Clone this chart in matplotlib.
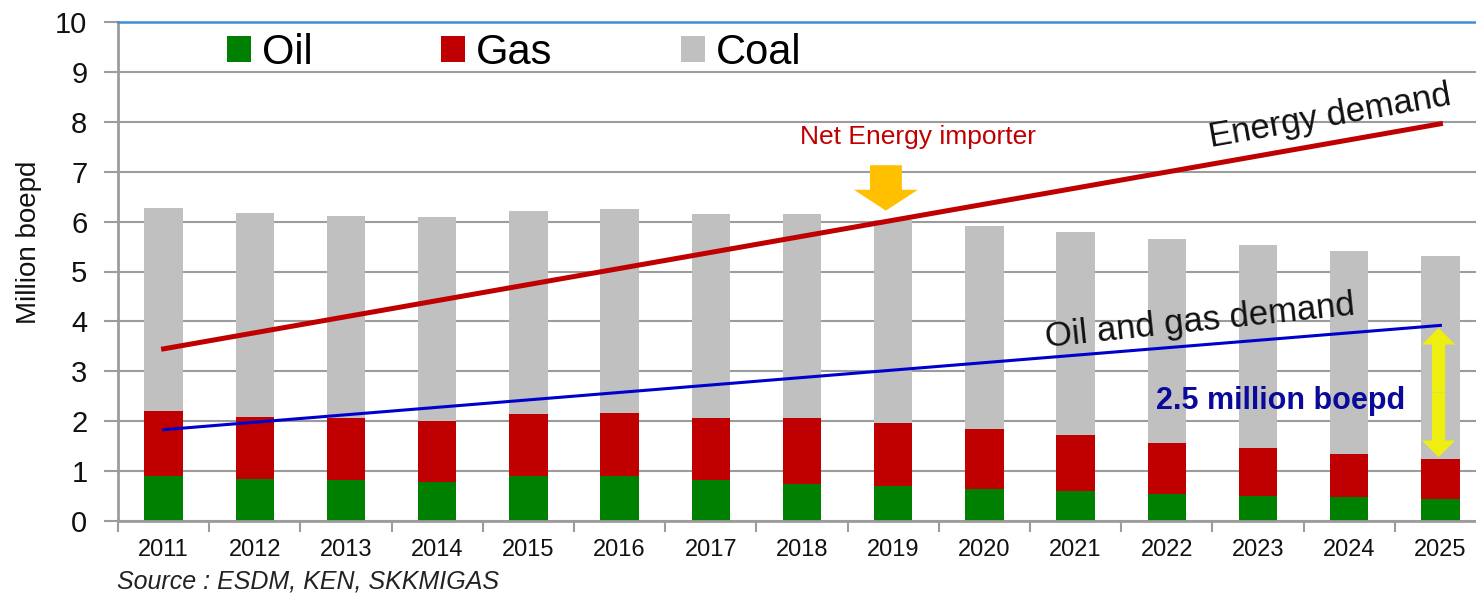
import matplotlib
matplotlib.use('Agg')
import matplotlib.pyplot as plt
from matplotlib.patches import FancyArrowPatch, ArrowStyle
import numpy as np

plt.rcParams['font.family'] = ['Liberation Sans', 'DejaVu Sans']

years = ['2011', '2012', '2013', '2014', '2015', '2016', '2017', '2018',
         '2019', '2020', '2021', '2022', '2023', '2024', '2025']
oil = [0.90, 0.85, 0.83, 0.79, 0.90, 0.90, 0.83, 0.75, 0.71, 0.64, 0.60, 0.55, 0.51, 0.48, 0.45]
gas = [1.31, 1.23, 1.23, 1.21, 1.24, 1.27, 1.23, 1.31, 1.26, 1.20, 1.13, 1.02, 0.95, 0.87, 0.79]
coal = [4.06, 4.09, 4.06, 4.09, 4.08, 4.08, 4.09, 4.09, 4.07, 4.07, 4.07, 4.08, 4.07, 4.06, 4.07]

demand_years = ['2011', '2025']
energy_demand = [3.45, 7.96]
oil_gas_demand = [1.83, 3.92]

W, H = 1476, 596
fig = plt.figure(figsize=(W / 100, H / 100), dpi=100)
ax = fig.add_axes([118 / W, (H - 521) / H, 1368 / W, 499 / H])

x = np.arange(len(years))
oil_a = np.array(oil)
gas_a = np.array(gas)
coal_a = np.array(coal)
bw = 0.42
b_oil = ax.bar(x, oil_a, bw, color='#008000', label='Oil', zorder=2)
b_gas = ax.bar(x, gas_a, bw, bottom=oil_a, color='#C00000', label='Gas', zorder=2)
b_coal = ax.bar(x, coal_a, bw, bottom=oil_a + gas_a, color='#C0C0C0', label='Coal', zorder=2)

dx = [years.index(y) for y in demand_years]
ax.plot(dx, energy_demand, color='#C00000', lw=3.6, zorder=4, solid_capstyle='projecting')
ax.plot(dx, oil_gas_demand, color='#0000CC', lw=2.2, zorder=4, solid_capstyle='projecting')

ax.set_xlim(-0.5, len(years) - 0.5)
ax.set_ylim(0, 10)
ax.set_yticks(range(0, 11))
ax.yaxis.grid(True, color='#9C9C9C', lw=1.5, zorder=0)
ax.set_axisbelow(True)
ax.tick_params(axis='y', length=10, width=1.5, color='#9C9C9C', labelsize=21, pad=12,
               labelcolor='#111111')
ax.set_xticks(x)
ax.set_xticklabels(years)
ax.set_xticks(np.arange(-0.5, len(years), 1.0), minor=True)
ax.tick_params(axis='x', which='major', length=0, labelsize=17, pad=13, labelcolor='#111111')
ax.tick_params(axis='x', which='minor', length=8, width=1.5, color='#9C9C9C')
for s in ['left', 'bottom']:
    ax.spines[s].set_color('#9C9C9C')
    ax.spines[s].set_linewidth(2)
ax.spines['right'].set_visible(False)
ax.spines['top'].set_color('#3F8FD8')
ax.spines['top'].set_linewidth(1.8)

ax.set_ylabel('Million boepd', fontsize=20, color='#111111')
ax.yaxis.set_label_coords((42 - 118) / 1368, 0.559)

leg = ax.legend(handles=[b_oil, b_gas, b_coal], ncol=3, frameon=False, fontsize=30,
                handlelength=0.58, handleheight=0.58, handletextpad=0.27,
                columnspacing=3.07, borderpad=0, borderaxespad=0,
                loc='center left', bbox_to_anchor=(227 / W, 1 - 53 / H),
                bbox_transform=fig.transFigure)

# Annotations
ax.text(8.27, 7.70, 'Net Energy importer', color='#C00000', fontsize=19,
        ha='center', va='center', zorder=5)
ax.text(12.79, 8.10, 'Energy demand', color='#111111', fontsize=25, rotation=10,
        rotation_mode='anchor', ha='center', va='center', zorder=5)
ax.text(11.36, 4.00, 'Oil and gas demand', color='#111111', fontsize=25, rotation=6,
        rotation_mode='anchor', ha='center', va='center', zorder=5)
ax.text(12.25, 2.40, '2.5 million boepd', color='#0A0A9A', fontsize=22,
        fontweight='bold', ha='center', va='center', zorder=5)

# Orange down arrow
orange = FancyArrowPatch((7.92, 7.13), (7.92, 6.22),
                         arrowstyle=ArrowStyle.Simple(head_length=1.5, head_width=4.6, tail_width=2.3),
                         mutation_scale=10, color='#FFC000', lw=0, zorder=5,
                         shrinkA=0, shrinkB=0)
ax.add_patch(orange)

# Yellow double arrow
mid = (3.87 + 1.28) / 2
for end in (3.87, 1.28):
    a = FancyArrowPatch((13.98, mid), (13.98, end),
                        arrowstyle=ArrowStyle.Simple(head_length=1.2, head_width=2.4, tail_width=0.95),
                        mutation_scale=10, color='#EEEE10', lw=0, zorder=5,
                        shrinkA=0, shrinkB=0)
    ax.add_patch(a)

fig.text(117 / W, 1 - 582 / H, 'Source : ESDM, KEN, SKKMIGAS', fontsize=18,
         style='italic', color='#222222', ha='left', va='center')

fig.savefig('out.png', dpi=100)
